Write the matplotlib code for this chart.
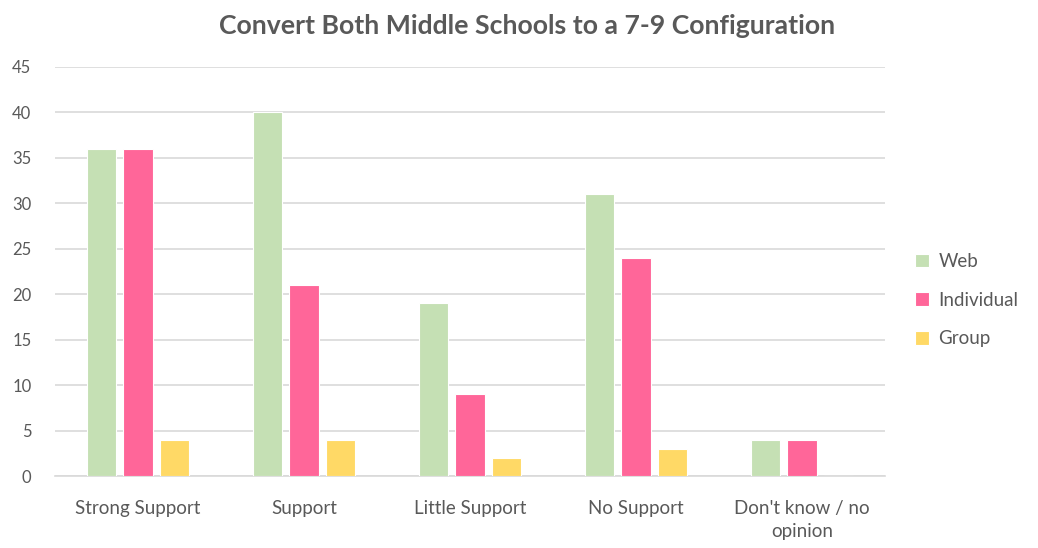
import numpy as np
import matplotlib
matplotlib.use("Agg")
import matplotlib.pyplot as plt

categories = ["Strong Support", "Support", "Little Support", "No Support", "Don't know / no\nopinion"]
series_names = ["Web", "Individual", "Group"]
web = [36, 40, 19, 31, 4]
individual = [36, 21, 9, 24, 4]
group = [4, 4, 2, 3, 0]
colors = ["#C5E0B4", "#FF6699", "#FFD966"]

plt.rcParams["font.family"] = ["Lato", "DejaVu Sans"]
text_color = "#595959"

fig = plt.figure(figsize=(10.38, 5.48), dpi=100)
ax = fig.add_axes([0.053, 0.131, 0.7996, 0.747])

x = np.arange(len(categories))
width = 0.175
step = 0.22
for i, (vals, name) in enumerate(zip([web, individual, group], series_names)):
    ax.bar(x + (i - 1) * step, vals, width, color=colors[i], label=name,
           edgecolor="white", linewidth=0.8, zorder=3)

ax.set_xlim(-0.5, len(categories) - 0.5)
ax.set_ylim(0, 45)
ax.set_yticks(range(0, 50, 5))
ax.yaxis.grid(True, color="#D9D9D9", linewidth=1.2, zorder=0)
ax.set_xticks(x)
ax.set_xticklabels(categories, fontsize=13.5, color=text_color, linespacing=1.45)
ax.tick_params(axis="y", labelsize=12, colors=text_color, length=0, pad=17)
ax.tick_params(axis="x", length=0, pad=17)
for s in ["top", "right", "left"]:
    ax.spines[s].set_visible(False)
ax.spines["bottom"].set_color("#D9D9D9")
ax.spines["bottom"].set_linewidth(1.2)

fig.suptitle("Convert Both Middle Schools to a 7-9 Configuration", x=0.508, y=0.975,
             fontsize=19.2, fontweight="bold", color=text_color)

leg = ax.legend(loc="center left", bbox_to_anchor=(1.016, 0.43), frameon=False,
                fontsize=13.5, handlelength=0.75, handleheight=0.75,
                labelspacing=1.15, handletextpad=0.5)
for t in leg.get_texts():
    t.set_color(text_color)

fig.savefig("out.png", dpi=100)
